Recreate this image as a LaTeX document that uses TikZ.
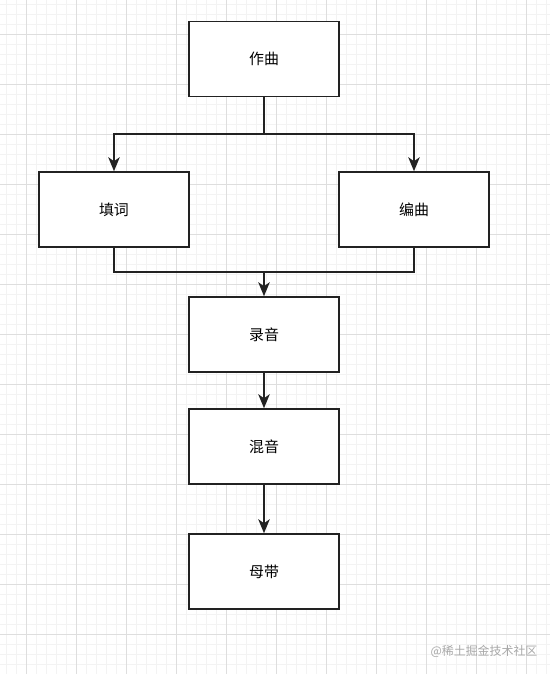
\documentclass[tikz,border=0pt]{standalone}
\usepackage{fontspec}
\setmainfont{Noto Sans CJK SC}
\usetikzlibrary{arrows.meta,positioning}

\definecolor{minorgray}{HTML}{F3F3F3}
\definecolor{majorgray}{HTML}{DEDEDE}
\definecolor{edgegray}{HTML}{222222}
\definecolor{markgray}{HTML}{A8A8A8}

\tikzset{
  box/.style={draw=edgegray,line width=0.9pt,fill=white,minimum width=3cm,minimum height=1.5cm,
    inner sep=0pt,font=\fontsize{8.5}{10}\selectfont},
  link/.style={draw=edgegray,line width=0.9pt},
  flow/.style={link,-{Stealth[length=2.8mm,width=2.3mm,inset=0.8mm]}},
  minorline/.style={minorgray,line width=0.4pt},
  majorline/.style={majorgray,line width=0.5pt}
}

\begin{document}
\begin{tikzpicture}[x=0.02cm,y=-0.02cm]

   \useasboundingbox (0,0) rectangle (550,674);
   \fill[white] (0,0) rectangle (550,674);

   % grid paper
   \foreach \x in {6,16,...,546} \draw[minorline] (\x,0) -- (\x,674);
   \foreach \y in {4,14,...,674} \draw[minorline] (0,\y) -- (550,\y);
   \foreach \x in {26,76,...,526} \draw[majorline] (\x,0) -- (\x,674);
   \foreach \y in {34,84,...,634} \draw[majorline] (0,\y) -- (550,\y);

   % steps
   \node[box] (zuoqu)  at (264,59)    {作曲};
   \node[box] (tianci) at (114,209.5) {填词};
   \node[box] (bianqu) at (414,209.5) {编曲};
   \node[box] (luyin)  at (264,334.5) {录音};
   \node[box] (hunyin) at (264,446.5) {混音};
   \node[box] (mudai)  at (264,571.5) {母带};

   % fork
   \coordinate (fork) at (264,134);
   \draw[link] (zuoqu.south) -- (fork);
   \draw[flow] (fork) -| (tianci.north);
   \draw[flow] (fork) -| (bianqu.north);

   % merge
   \coordinate (merge) at (264,272);
   \draw[link] (tianci.south) -- (tianci.south |- merge) -- (bianqu.south |- merge) -- (bianqu.south);
   \draw[flow] (merge) -- (luyin.north);

   \draw[flow] (luyin.south) -- (hunyin.north);
   \draw[flow] (hunyin.south) -- (mudai.north);

   % watermark
   \node[markgray,font=\fontsize{6.8}{8}\selectfont] (mark) at (484,651) {@稀土掘金技术社区};

 \end{tikzpicture}
\end{document}
